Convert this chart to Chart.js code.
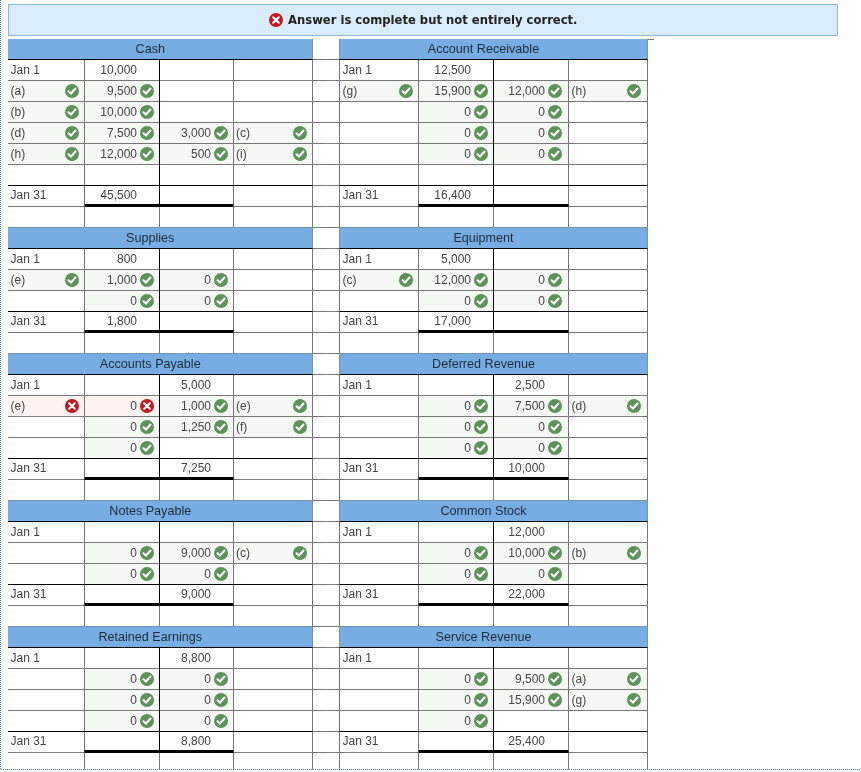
<!DOCTYPE html>
<html>
<head>
<meta charset="utf-8">
<title>T accounts</title>
<script src="https://cdn.jsdelivr.net/npm/chart.js@4/dist/chart.umd.min.js"></script>
<style>
  html, body { margin: 0; padding: 0; background: #fff; }
  canvas { display: block; }
</style>
</head>
<body>
<canvas id="ledger" width="861" height="772"></canvas>
<script>
const bannerText = 'Answer is complete but not entirely correct.';

const cashDates = ['Jan 1', '(a)', '(b)', '(d)', '(h)', '', 'Jan 31', ''];
const cashDebits = [10000, 9500, 10000, 7500, 12000, null, 45500, null];
const cashCredits = [null, null, null, 3000, 500, null, null, null];
const cashRefs = ['', '', '', '(c)', '(i)', '', '', ''];

const receivableDates = ['Jan 1', '(g)', '', '', '', '', 'Jan 31', ''];
const receivableDebits = [12500, 15900, 0, 0, 0, null, 16400, null];
const receivableCredits = [null, 12000, 0, 0, 0, null, null, null];
const receivableRefs = ['', '(h)', '', '', '', '', '', ''];

const suppliesDates = ['Jan 1', '(e)', '', 'Jan 31', ''];
const suppliesDebits = [800, 1000, 0, 1800, null];
const suppliesCredits = [null, 0, 0, null, null];
const suppliesRefs = ['', '', '', '', ''];

const equipmentDates = ['Jan 1', '(c)', '', 'Jan 31', ''];
const equipmentDebits = [5000, 12000, 0, 17000, null];
const equipmentCredits = [null, 0, 0, null, null];
const equipmentRefs = ['', '', '', '', ''];

const payableDates = ['Jan 1', '(e)', '', '', 'Jan 31', ''];
const payableDebits = [null, 0, 0, 0, null, null];
const payableCredits = [5000, 1000, 1250, null, 7250, null];
const payableRefs = ['', '(e)', '(f)', '', '', ''];

const deferredDates = ['Jan 1', '', '', '', 'Jan 31', ''];
const deferredDebits = [null, 0, 0, 0, null, null];
const deferredCredits = [2500, 7500, 0, 0, 10000, null];
const deferredRefs = ['', '(d)', '', '', '', ''];

const notesDates = ['Jan 1', '', '', 'Jan 31', ''];
const notesDebits = [null, 0, 0, null, null];
const notesCredits = [null, 9000, 0, 9000, null];
const notesRefs = ['', '(c)', '', '', ''];

const stockDates = ['Jan 1', '', '', 'Jan 31', ''];
const stockDebits = [null, 0, 0, null, null];
const stockCredits = [12000, 10000, 0, 22000, null];
const stockRefs = ['', '(b)', '', '', ''];

const retainedDates = ['Jan 1', '', '', '', 'Jan 31', ''];
const retainedDebits = [null, 0, 0, 0, null, null];
const retainedCredits = [8800, 0, 0, 0, 8800, null];
const retainedRefs = ['', '', '', '', '', ''];

const revenueDates = ['Jan 1', '', '', '', 'Jan 31', ''];
const revenueDebits = [null, 0, 0, 0, null, null];
const revenueCredits = [null, 9500, 15900, null, 25400, null];
const revenueRefs = ['', '(a)', '(g)', '', '', ''];

// answers that were marked wrong: account, row, column
const wrongCells = [['Accounts Payable', 1, 'date'], ['Accounts Payable', 1, 'debit']];

const ledgerRows = [
  [
    { name: 'Cash', dates: cashDates, debits: cashDebits, credits: cashCredits, refs: cashRefs },
    { name: 'Account Receivable', dates: receivableDates, debits: receivableDebits, credits: receivableCredits, refs: receivableRefs }
  ],
  [
    { name: 'Supplies', dates: suppliesDates, debits: suppliesDebits, credits: suppliesCredits, refs: suppliesRefs },
    { name: 'Equipment', dates: equipmentDates, debits: equipmentDebits, credits: equipmentCredits, refs: equipmentRefs }
  ],
  [
    { name: 'Accounts Payable', dates: payableDates, debits: payableDebits, credits: payableCredits, refs: payableRefs },
    { name: 'Deferred Revenue', dates: deferredDates, debits: deferredDebits, credits: deferredCredits, refs: deferredRefs }
  ],
  [
    { name: 'Notes Payable', dates: notesDates, debits: notesDebits, credits: notesCredits, refs: notesRefs },
    { name: 'Common Stock', dates: stockDates, debits: stockDebits, credits: stockCredits, refs: stockRefs }
  ],
  [
    { name: 'Retained Earnings', dates: retainedDates, debits: retainedDebits, credits: retainedCredits, refs: retainedRefs },
    { name: 'Service Revenue', dates: revenueDates, debits: revenueDebits, credits: revenueCredits, refs: revenueRefs }
  ]
];

// layout, in the units of the two hidden axes
const PAGE_W = 861, PAGE_H = 772;
const TOP = 38.5, TABLE_EDGE = 39, ROW_H = 21, BOTTOM = 769.5;
const COLS = [[8, 84.5, 159.5, 233.5, 312.5], [339.5, 418.5, 493.5, 568.5, 647.5]];
const GRAY = '#777777', BLACK = '#000000', TEXT = '#444444';
const FONT = '12px "Liberation Sans", Arial, sans-serif';
const TEXT_NUDGE = 0.6; // canvas middle baseline sits a bit high for these fonts

const isWrong = (name, row, col) => wrongCells.some(w => w[0] === name && w[1] === row && w[2] === col);
const isOpenOrTotal = d => d.startsWith('Jan');

const cells = [];   // fills, texts and marks for every table cell
const rules = [];   // [x1, y1, x2, y2, color, width]
const headers = [];
const okMarks = [], badMarks = [];

let blockTop = TOP;
ledgerRows.forEach(pair => {
  const rowCount = pair[0].dates.length;
  const bodyTop = blockTop + ROW_H;
  const bottom = Math.min(bodyTop + rowCount * ROW_H, BOTTOM);
  const totalRow = rowCount - 2;

  // row lines run over both tables and the gap
  for (let r = 0; r <= rowCount; r++) {
    const y = bodyTop + r * ROW_H;
    if (y > BOTTOM) continue;
    rules.push([COLS[0][0], y, COLS[1][4], y, GRAY, 1]);
  }

  pair.forEach((acc, side) => {
    const c = COLS[side];
    const markOff = side ? [12.5, 12.5, 13.5, 13.5] : [12.5, 12.5, 12.5, 12.5];
    const labelPad = side ? 3 : 2.5;
    headers.push({ name: acc.name, x1: c[0], x2: c[4], y1: Math.max(blockTop, TABLE_EDGE), y2: bodyTop, mid: blockTop + ROW_H / 2 });

    acc.dates.forEach((d, r) => {
      const y = bodyTop + (r + 0.5) * ROW_H;
      const jan = isOpenOrTotal(d);
      const add = (col, i, text, align, marked) => {
        const cell = { x1: c[i], x2: c[i + 1], y1: bodyTop + r * ROW_H, y2: bodyTop + (r + 1) * ROW_H };
        const mx = c[i + 1] - markOff[i];
        if (marked) {
          const bad = isWrong(acc.name, r, col);
          cells.push({ ...cell, fill: bad ? '#FFF4F2' : '#F6F8F5' });
          (bad ? badMarks : okMarks).push({ x: mx, y });
        }
        if (text === '') return;
        if (align === 'left') cells.push({ text, x: c[i] + labelPad, y: r === totalRow ? y - 0.5 : y, align });
        else cells.push({ text, x: mx - 10, y: r === totalRow ? y - 1 : y, align });
      };
      const money = v => (v === null ? '' : v.toLocaleString('en-US'));
      add('date', 0, d, 'left', d !== '' && !jan);
      add('debit', 1, money(acc.debits[r]), 'right', acc.debits[r] !== null && !jan);
      add('credit', 2, money(acc.credits[r]), 'right', acc.credits[r] !== null && !jan);
      add('ref', 3, acc.refs[r], 'left', acc.refs[r] !== '');
    });

    // verticals
    [0, 1, 2, 3, 4].forEach(i => {
      if (i === 0 && side === 0) return;
      const y1 = (i === 0 || i === 4) ? Math.max(blockTop, TABLE_EDGE) : bodyTop;
      rules.push([c[i], y1, c[i], bottom, GRAY, 1]);
    });
    // black rules: header base, total row top, centre line, double underline bar
    const totalTop = bodyTop + totalRow * ROW_H;
    const totalBot = totalTop + ROW_H;
    rules.push([c[0], bodyTop, c[4], bodyTop, BLACK, 1]);
    rules.push([c[0], totalTop, c[4], totalTop, BLACK, 1]);
    rules.push([c[2], bodyTop, c[2], totalBot, BLACK, 1]);
    rules.push([c[1], totalBot - 1, c[3], totalBot - 1, BLACK, 3]);
  });
  blockTop = bodyTop + rowCount * ROW_H;
});
rules.push([COLS[1][4], TABLE_EDGE + 0.5, 654, TABLE_EDGE + 0.5, GRAY, 1]);

const tablePlugin = {
  id: 'tables',
  beforeDatasetsDraw(chart) {
    const { ctx, scales: { x, y } } = chart;
    const px = v => x.getPixelForValue(v), py = v => y.getPixelForValue(v);
    const box = (x1, y1, x2, y2) => ctx.fillRect(px(x1), py(y1), px(x2) - px(x1), py(y2) - py(y1));
    ctx.save();
    // banner
    ctx.fillStyle = '#D9ECFA';
    box(8, 4, 838, 36);
    ctx.strokeStyle = '#8DB8DD';
    ctx.lineWidth = 1;
    ctx.strokeRect(px(8.5), py(4.5), px(837.5) - px(8.5), py(35.5) - py(4.5));
    // answered cells, then rows, then header bars over the rows
    cells.filter(c => c.fill).forEach(c => {
      ctx.fillStyle = c.fill;
      box(c.x1, c.y1, c.x2, c.y2);
    });
    rules.forEach(r => {
      ctx.strokeStyle = r[4];
      ctx.lineWidth = r[5];
      ctx.beginPath();
      ctx.moveTo(px(r[0]), py(r[1]));
      ctx.lineTo(px(r[2]), py(r[3]));
      ctx.stroke();
    });
    ctx.fillStyle = '#78ADE4';
    headers.forEach(h => box(h.x1, h.y1, h.x2, h.y2 - 0.5));
    // dotted page edge
    ctx.strokeStyle = '#3D7CC4';
    ctx.lineWidth = 1;
    ctx.setLineDash([1, 1]);
    ctx.beginPath();
    ctx.moveTo(px(0.5), py(0));
    ctx.lineTo(px(0.5), py(BOTTOM));
    ctx.lineTo(px(PAGE_W), py(BOTTOM));
    ctx.stroke();
    ctx.restore();
  },
  afterDatasetsDraw(chart) {
    const { ctx, scales: { x, y } } = chart;
    const px = v => x.getPixelForValue(v), py = v => y.getPixelForValue(v);
    ctx.save();
    ctx.textBaseline = 'middle';
    ctx.font = FONT;
    ctx.fillStyle = TEXT;
    cells.filter(c => c.text).forEach(c => {
      ctx.textAlign = c.align;
      ctx.fillText(c.text, px(c.x), py(c.y + TEXT_NUDGE));
    });
    ctx.textAlign = 'center';
    ctx.fillStyle = '#1F2A36';
    ctx.font = '12.6px "Liberation Sans", Arial, sans-serif';
    headers.forEach(h => ctx.fillText(h.name, px((h.x1 + h.x2) / 2 - 10), py(h.mid + TEXT_NUDGE - 0.5)));
    ctx.textAlign = 'left';
    ctx.fillStyle = '#222222';
    ctx.font = 'bold 11.6px "DejaVu Sans", Verdana, sans-serif';
    ctx.fillText(bannerText, px(288), py(20 + TEXT_NUDGE));

    // tick and cross glyphs on top of the point datasets
    ctx.strokeStyle = '#ffffff';
    ctx.lineWidth = 2;
    ctx.lineCap = 'round';
    chart.getDatasetMeta(0).data.forEach(p => {
      ctx.beginPath();
      ctx.moveTo(p.x - 3.5, p.y + 0.2);
      ctx.lineTo(p.x - 1, p.y + 2.5);
      ctx.lineTo(p.x + 3.5, p.y - 2.5);
      ctx.stroke();
    });
    chart.getDatasetMeta(1).data.forEach(p => {
      ctx.beginPath();
      ctx.moveTo(p.x - 2.8, p.y - 2.8);
      ctx.lineTo(p.x + 2.8, p.y + 2.8);
      ctx.moveTo(p.x + 2.8, p.y - 2.8);
      ctx.lineTo(p.x - 2.8, p.y + 2.8);
      ctx.stroke();
    });
    ctx.restore();
  }
};

new Chart(document.getElementById('ledger').getContext('2d'), {
  type: 'scatter',
  data: {
    datasets: [
      { label: 'correct', data: okMarks, backgroundColor: '#5B9358', borderWidth: 0, pointRadius: 7, pointHoverRadius: 7 },
      { label: 'wrong', data: badMarks.concat([{ x: 276, y: 20 }]), backgroundColor: '#BF1A1F', borderWidth: 0, pointRadius: 7, pointHoverRadius: 7 }
    ]
  },
  options: {
    responsive: false,
    animation: false,
    devicePixelRatio: 1,
    layout: { padding: 0, autoPadding: false },
    plugins: { legend: { display: false }, tooltip: { enabled: false }, title: { display: false } },
    scales: {
      x: { type: 'linear', display: false, min: 0, max: PAGE_W },
      y: { type: 'linear', display: false, min: 0, max: PAGE_H, reverse: true }
    }
  },
  plugins: [tablePlugin]
});
</script>
</body>
</html>
